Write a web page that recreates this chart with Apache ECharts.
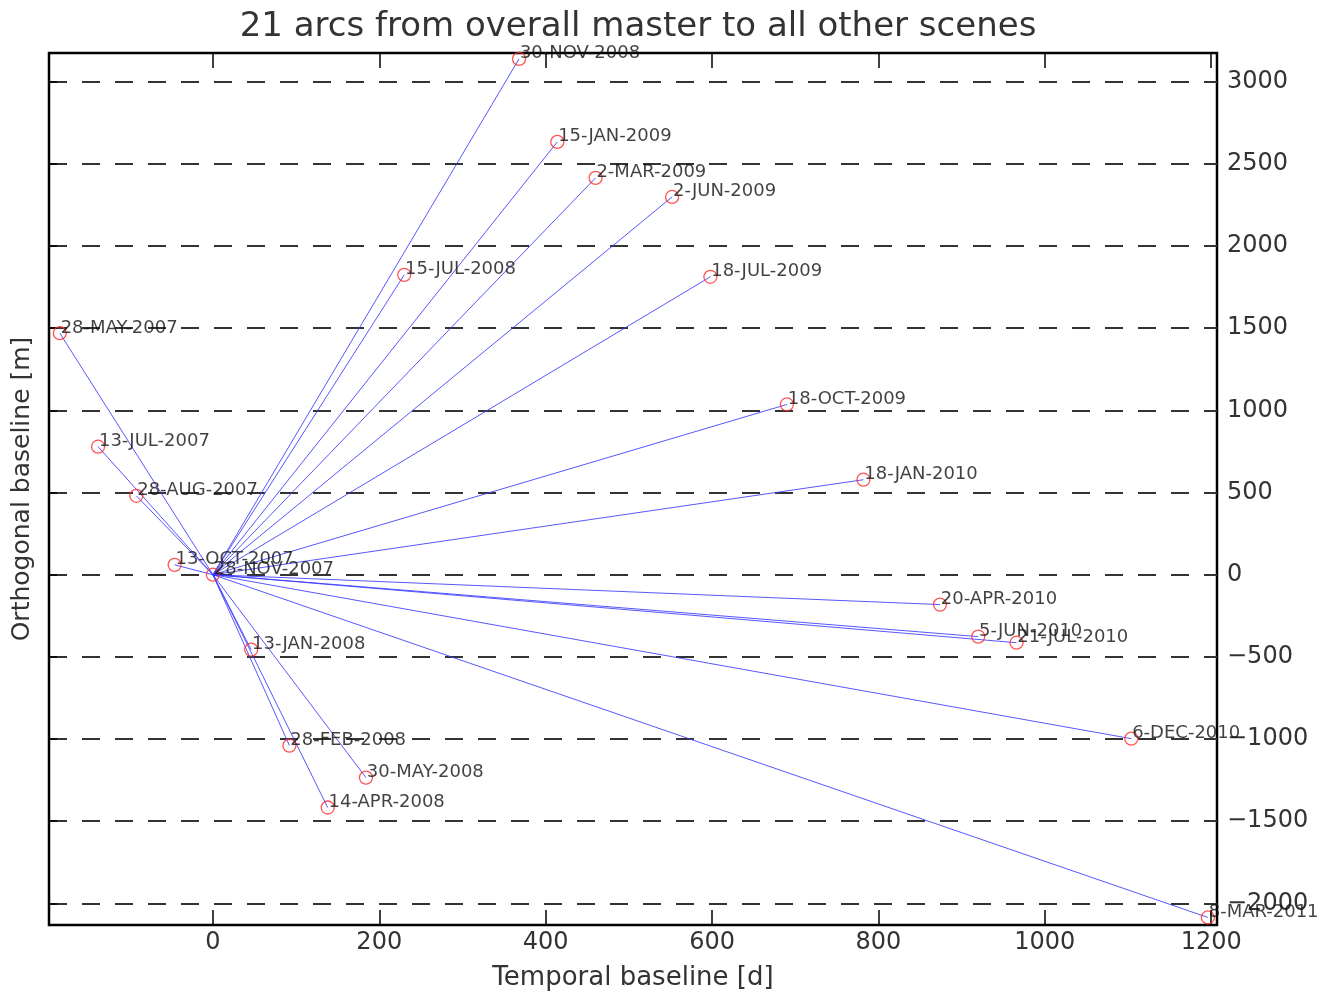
<!DOCTYPE html>
<html>
<head>
<meta charset="utf-8">
<script src="https://cdn.jsdelivr.net/npm/echarts@6/dist/echarts.min.js"></script>
<style>
  html, body { margin: 0; padding: 0; background: #fff; }
  #chart { width: 1323px; height: 992px; }
</style>
</head>
<body>
<div id="chart"></div>
<script>
// Acquisition dates of the scenes
const sceneDates = [
  '28-MAY-2007', '13-JUL-2007', '28-AUG-2007', '13-OCT-2007', '28-NOV-2007',
  '13-JAN-2008', '28-FEB-2008', '14-APR-2008', '30-MAY-2008', '15-JUL-2008',
  '30-NOV-2008', '15-JAN-2009', '2-MAR-2009', '2-JUN-2009', '18-JUL-2009',
  '18-OCT-2009', '18-JAN-2010', '20-APR-2010', '5-JUN-2010', '21-JUL-2010',
  '6-DEC-2010', '8-MAR-2011'
];
// Temporal baseline relative to the master scene [d]
const temporalBaseline = [
  -184, -138, -92, -46, 0,
  46, 92, 138, 184, 230,
  368, 414, 460, 552, 598,
  690, 782, 874, 920, 966,
  1104, 1196
];
// Orthogonal baseline relative to the master scene [m]
const orthogonalBaseline = [
  1470, 779, 480, 60, 0,
  -456, -1040, -1417, -1235, 1825,
  3139, 2634, 2415, 2299, 1813,
  1036, 578, -182, -377, -414,
  -998, -2086
];
const masterIndex = 4;
const xTicks = [0, 200, 400, 600, 800, 1000, 1200];
const yTicks = [-2000, -1500, -1000, -500, 0, 500, 1000, 1500, 2000, 2500, 3000];

const master = [temporalBaseline[masterIndex], orthogonalBaseline[masterIndex]];
const arcs = [];
const scenes = [];
sceneDates.forEach((d, i) => {
  scenes.push({ value: [temporalBaseline[i], orthogonalBaseline[i]], name: d });
  if (i !== masterIndex) {
    arcs.push({ coords: [master, [temporalBaseline[i], orthogonalBaseline[i]]] });
  }
});

const FONT = '"DejaVu Sans", "Liberation Sans", sans-serif';
const X_MIN = -197, X_MAX = 1207, Y_MIN = -2132, Y_MAX = 3175;
// plain integers, with a true minus sign and no thousands separator
const plainNumber = v => String(v).replace('-', '\u2212');

const chart = echarts.init(document.getElementById('chart'), null, { renderer: 'canvas' });
chart.setOption({
  backgroundColor: '#fff',
  animation: false,
  title: {
    text: '21 arcs from overall master to all other scenes',
    left: 633,
    textAlign: 'center',
    top: 5,
    textStyle: { fontFamily: FONT, fontSize: 34, fontWeight: 'normal', color: '#333' }
  },
  grid: {
    left: 49, top: 53, width: 1168, height: 872,
    outerBoundsMode: 'none',
    show: true, borderColor: '#000', borderWidth: 2.5, backgroundColor: 'transparent'
  },
  xAxis: [
    {
      type: 'value', position: 'bottom', min: X_MIN, max: X_MAX,
      name: 'Temporal baseline [d]', nameLocation: 'middle', nameGap: 40,
      nameTextStyle: { fontFamily: FONT, fontSize: 26, color: '#333' },
      axisLine: { show: false, onZero: false },
      axisTick: { show: true, inside: true, length: 15, customValues: xTicks,
                  lineStyle: { color: '#000', width: 1.5 } },
      axisLabel: { customValues: xTicks, margin: 6, fontFamily: FONT, fontSize: 24, color: '#333',
                   formatter: plainNumber },
      splitLine: { show: false }
    },
    {
      type: 'value', position: 'top', min: X_MIN, max: X_MAX,
      axisLine: { show: false, onZero: false },
      axisTick: { show: true, inside: true, length: 15, customValues: xTicks,
                  lineStyle: { color: '#000', width: 1.5 } },
      axisLabel: { show: false },
      splitLine: { show: false }
    }
  ],
  yAxis: [
    {
      type: 'value', position: 'right', min: Y_MIN, max: Y_MAX,
      axisLine: { show: false, onZero: false },
      axisTick: { show: false, customValues: yTicks },
      axisLabel: { customValues: yTicks, margin: 10, fontFamily: FONT, fontSize: 24, color: '#333',
                   formatter: plainNumber },
      splitLine: { show: true, lineStyle: { color: '#333', width: 2, type: [18, 15] } }
    },
    {
      type: 'value', position: 'left', min: Y_MIN, max: Y_MAX,
      name: 'Orthogonal baseline [m]', nameLocation: 'middle', nameGap: 14,
      nameTextStyle: { fontFamily: FONT, fontSize: 25, color: '#333' },
      axisLine: { show: false, onZero: false },
      axisTick: { show: true, inside: true, length: 8, customValues: yTicks,
                  lineStyle: { color: '#000', width: 1.5 } },
      axisLabel: { show: false },
      splitLine: { show: false }
    }
  ],
  series: [
    {
      type: 'lines',
      coordinateSystem: 'cartesian2d',
      xAxisIndex: 0, yAxisIndex: 0,
      data: arcs,
      lineStyle: { color: '#3a3aff', width: 1, opacity: 0.85 },
      silent: true, z: 2
    },
    {
      type: 'scatter',
      xAxisIndex: 0, yAxisIndex: 0,
      data: scenes,
      symbol: 'circle',
      symbolSize: 13,
      itemStyle: { color: 'transparent', borderColor: '#ff2a2a', borderWidth: 1.3 },
      label: {
        show: true,
        position: [8, 2],
        align: 'left', verticalAlign: 'middle',
        formatter: p => p.name,
        fontFamily: FONT, fontSize: 18, color: '#111'
      },
      z: 3
    }
  ]
});
</script>
</body>
</html>
